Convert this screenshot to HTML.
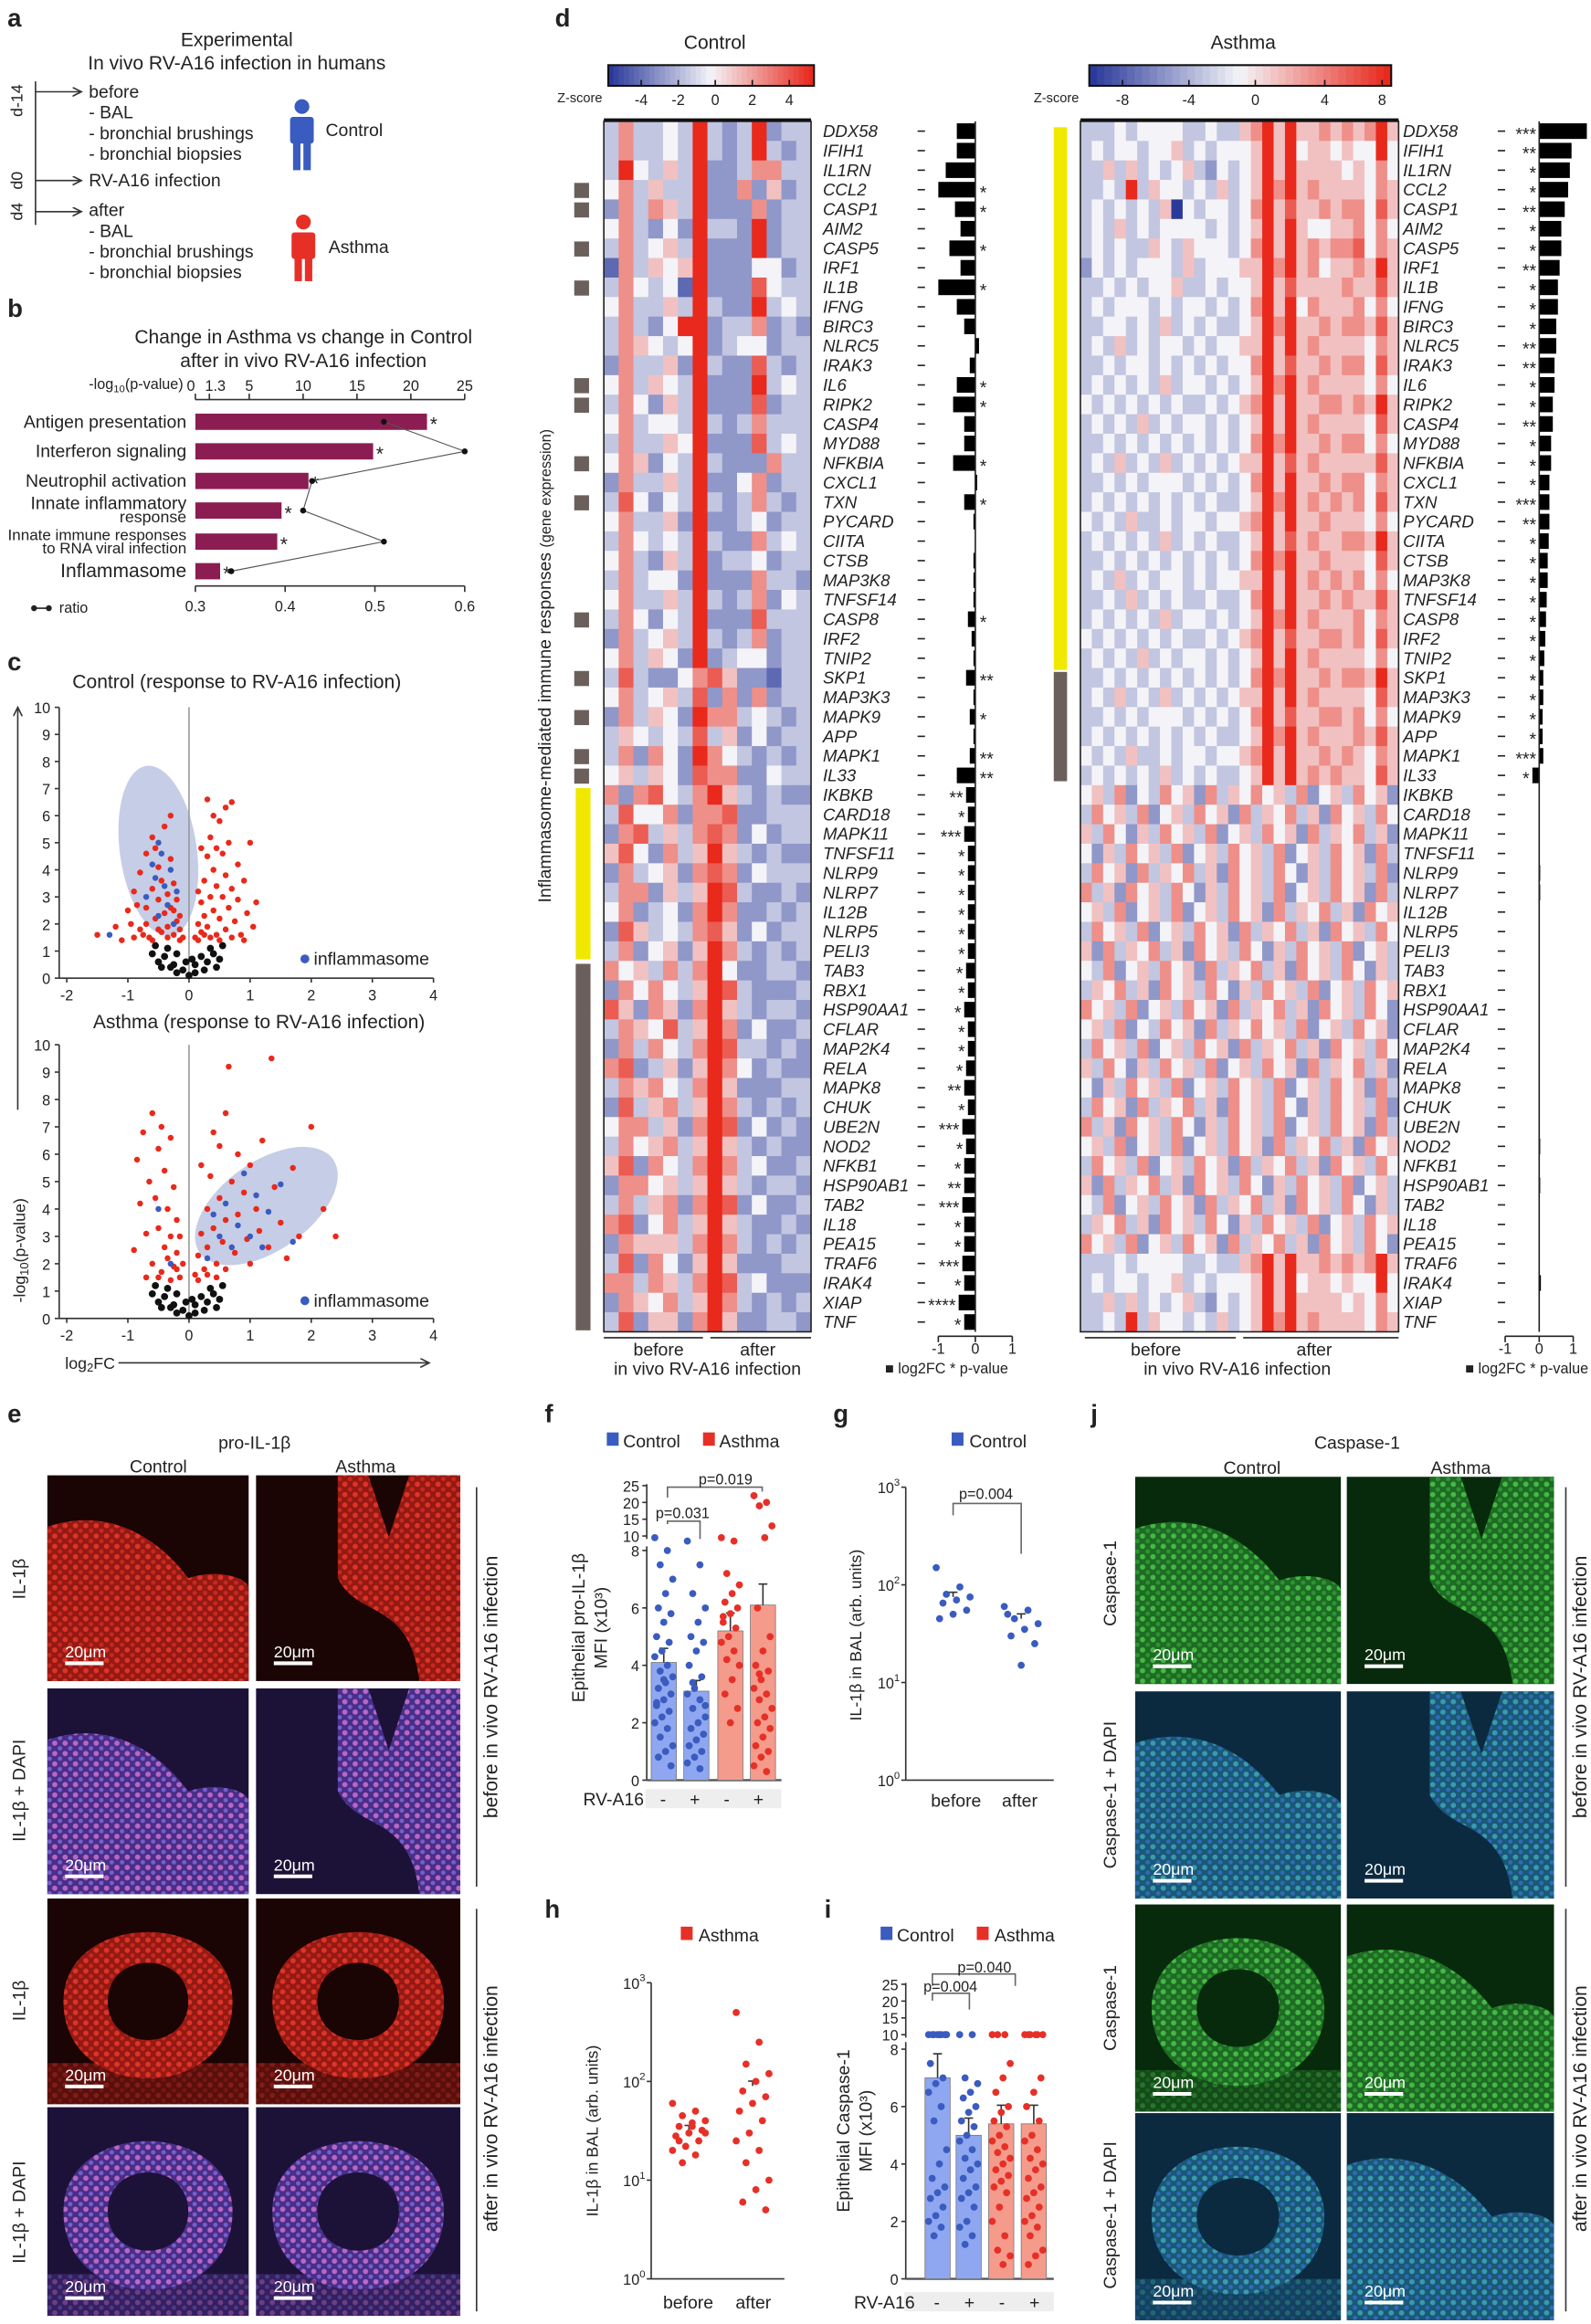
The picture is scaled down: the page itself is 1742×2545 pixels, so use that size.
<!DOCTYPE html>
<html><head><meta charset="utf-8"><style>
html,body{margin:0;padding:0;background:#fff}
svg{display:block}
text{font-family:"Liberation Sans",sans-serif;fill:#222}
.it{font-style:italic}
</style></head><body>
<svg id="fig" xmlns="http://www.w3.org/2000/svg" width="1742" height="2545" viewBox="0 0 1075 1570.5">
<defs>
<marker id="arr" markerWidth="8" markerHeight="8" refX="6" refY="3" orient="auto"><path d="M0,0 L6,3 L0,6" fill="none" stroke="#333" stroke-width="1"/></marker>
<pattern id="pr" width="7" height="7" patternUnits="userSpaceOnUse"><rect width="7" height="7" fill="#9a1a14"/><circle cx="2" cy="2" r="1.8" fill="#e8352a"/><circle cx="5.5" cy="5.5" r="1.5" fill="#d02a20"/></pattern>
<pattern id="prd" width="7" height="7" patternUnits="userSpaceOnUse"><rect width="7" height="7" fill="#4b2f8a"/><circle cx="2" cy="2" r="1.8" fill="#c06ad0"/><circle cx="5.5" cy="5.5" r="1.5" fill="#7a63d8"/></pattern>
<pattern id="pg" width="7" height="7" patternUnits="userSpaceOnUse"><rect width="7" height="7" fill="#1f6e25"/><circle cx="2" cy="2" r="1.8" fill="#48c048"/><circle cx="5.5" cy="5.5" r="1.5" fill="#2e9a34"/></pattern>
<pattern id="pgd" width="7" height="7" patternUnits="userSpaceOnUse"><rect width="7" height="7" fill="#1b5a78"/><circle cx="2" cy="2" r="1.8" fill="#3aa0b8"/><circle cx="5.5" cy="5.5" r="1.5" fill="#2f6fc0"/></pattern>
</defs>

<!-- Panel a -->
<g>
<text x="5" y="18" font-size="17" font-weight="bold">a</text>
<text x="160" y="31" font-size="13" text-anchor="middle">Experimental</text>
<text x="160" y="47" font-size="13" text-anchor="middle">In vivo RV-A16 infection in humans</text>
<line x1="24" y1="55" x2="24" y2="152" stroke="#333"/>
<line x1="24" y1="62" x2="55" y2="62" stroke="#333" marker-end="url(#arr)"/>
<line x1="24" y1="122" x2="55" y2="122" stroke="#333" marker-end="url(#arr)"/>
<line x1="24" y1="143" x2="55" y2="143" stroke="#333" marker-end="url(#arr)"/>
<text transform="translate(15,68) rotate(-90)" font-size="11" text-anchor="middle">d-14</text>
<text transform="translate(15,122) rotate(-90)" font-size="11" text-anchor="middle">d0</text>
<text transform="translate(15,143) rotate(-90)" font-size="11" text-anchor="middle">d4</text>
<g font-size="12">
<text x="60" y="66">before</text><text x="60" y="80">- BAL</text><text x="60" y="94">- bronchial brushings</text><text x="60" y="108">- bronchial biopsies</text>
<text x="60" y="126">RV-A16 infection</text>
<text x="60" y="146">after</text><text x="60" y="160">- BAL</text><text x="60" y="174">- bronchial brushings</text><text x="60" y="188">- bronchial biopsies</text>
</g>
<g fill="#3a5bbf"><circle cx="204" cy="72" r="5"/><rect x="196" y="79" width="16" height="18" rx="2"/><rect x="198" y="96" width="5" height="19"/><rect x="205" y="96" width="5" height="19"/></g>
<text x="220" y="92" font-size="12">Control</text>
<g fill="#e63027"><circle cx="205" cy="150" r="5"/><rect x="197" y="157" width="16" height="18" rx="2"/><rect x="199" y="174" width="5" height="16"/><rect x="206" y="174" width="5" height="16"/></g>
<text x="222" y="171" font-size="12">Asthma</text>
</g>

<!-- Panel b -->
<g id="panelB">
<text x="5" y="214" font-size="17" font-weight="bold">b</text>
<text x="205" y="232" font-size="13" text-anchor="middle">Change in Asthma vs change in Control</text>
<text x="205" y="248" font-size="13" text-anchor="middle">after in vivo RV-A16 infection</text>
<text x="60" y="263" font-size="10">-log<tspan font-size="7" dy="2">10</tspan><tspan dy="-2">(p-value)</tspan></text>
<line x1="132" y1="270" x2="314" y2="270" stroke="#333"/>
<line x1="132" y1="396" x2="314" y2="396" stroke="#333"/>
<g id="bplot"></g>
<circle cx="23" cy="411" r="2" fill="#222"/><line x1="23" y1="411" x2="33" y2="411" stroke="#222"/><circle cx="33" cy="411" r="2" fill="#222"/>
<text x="40" y="414" font-size="10">ratio</text>
</g>

<!-- Panel c -->
<g id="panelC">
<text x="5" y="453" font-size="17" font-weight="bold">c</text>
<text x="160" y="465" font-size="13" text-anchor="middle">Control (response to RV-A16 infection)</text>
<text x="175" y="695" font-size="13" text-anchor="middle">Asthma  (response to RV-A16 infection)</text>
<ellipse cx="107" cy="575" rx="26" ry="58" fill="#b8c0e0" opacity="0.8" transform="rotate(-8 107 575)"/>
<ellipse cx="180" cy="815" rx="55" ry="30" fill="#b8c0e0" opacity="0.8" transform="rotate(-35 180 815)"/>
<g id="volc"></g>
<line x1="12" y1="750" x2="12" y2="478" stroke="#333" marker-end="url(#arr)"/>
<line x1="80" y1="921" x2="290" y2="921" stroke="#333" marker-end="url(#arr)"/>
<text transform="translate(17,845) rotate(-90)" font-size="11" text-anchor="middle">-log<tspan font-size="8" dy="2">10</tspan><tspan dy="-2">(p-value)</tspan></text>
<text x="44" y="925" font-size="11">log<tspan font-size="8" dy="2">2</tspan><tspan dy="-2">FC</tspan></text>
<circle cx="206" cy="648" r="3" fill="#3a5bbf"/><text x="212" y="652" font-size="12">inflammasome</text>
<circle cx="206" cy="879" r="3" fill="#3a5bbf"/><text x="212" y="883" font-size="12">inflammasome</text>
</g>

<!-- Panel d -->
<g id="panelD">
<text x="375" y="18" font-size="17" font-weight="bold">d</text>
<text x="483" y="33" font-size="13" text-anchor="middle">Control</text>
<text x="840" y="33" font-size="13" text-anchor="middle">Asthma</text>
<text transform="translate(372,450) rotate(-90)" font-size="12" text-anchor="middle">Inflammasome-mediated immune responses <tspan font-size="10">(gene expression)</tspan></text>
<g id="heat"></g>
</g>

<!-- Panel e -->
<g id="panelE">
<text x="5" y="961" font-size="17" font-weight="bold">e</text>
<text x="172" y="979" font-size="12" text-anchor="middle">pro-IL-1β</text>
<text x="107" y="995" font-size="12" text-anchor="middle">Control</text>
<text x="247" y="995" font-size="12" text-anchor="middle">Asthma</text>
<g id="imgE"></g>
<text transform="translate(17,1067) rotate(-90)" font-size="12" text-anchor="middle">IL-1β</text>
<text transform="translate(17,1210) rotate(-90)" font-size="12" text-anchor="middle">IL-1β + DAPI</text>
<text transform="translate(17,1352) rotate(-90)" font-size="12" text-anchor="middle">IL-1β</text>
<text transform="translate(17,1495) rotate(-90)" font-size="12" text-anchor="middle">IL-1β + DAPI</text>
<line x1="322" y1="1005" x2="322" y2="1275" stroke="#333"/>
<line x1="322" y1="1290" x2="322" y2="1562" stroke="#333"/>
<text transform="translate(336,1140) rotate(-90)" font-size="13" text-anchor="middle">before in vivo RV-A16 infection</text>
<text transform="translate(336,1425) rotate(-90)" font-size="13" text-anchor="middle">after in vivo RV-A16 infection</text>
</g>

<!-- Panel j -->
<g id="panelJ">
<text x="737" y="961" font-size="17" font-weight="bold">j</text>
<text x="917" y="979" font-size="12" text-anchor="middle">Caspase-1</text>
<text x="846" y="996" font-size="12" text-anchor="middle">Control</text>
<text x="987" y="996" font-size="12" text-anchor="middle">Asthma</text>
<g id="imgJ"></g>
<text transform="translate(754,1070) rotate(-90)" font-size="12" text-anchor="middle">Caspase-1</text>
<text transform="translate(754,1213) rotate(-90)" font-size="12" text-anchor="middle">Caspase-1 + DAPI</text>
<text transform="translate(754,1357) rotate(-90)" font-size="12" text-anchor="middle">Caspase-1</text>
<text transform="translate(754,1497) rotate(-90)" font-size="12" text-anchor="middle">Caspase-1 + DAPI</text>
<line x1="1058" y1="1005" x2="1058" y2="1275" stroke="#333"/>
<line x1="1058" y1="1290" x2="1058" y2="1562" stroke="#333"/>
<text transform="translate(1072,1140) rotate(-90)" font-size="13" text-anchor="middle">before in vivo RV-A16 infection</text>
<text transform="translate(1072,1425) rotate(-90)" font-size="13" text-anchor="middle">after in vivo RV-A16 infection</text>
</g>

<!-- Panels f g h i -->
<g id="panelF">
<text x="368" y="961" font-size="17" font-weight="bold">f</text>
<rect x="410" y="968" width="8" height="9" fill="#3a5bbf"/><text x="421" y="978" font-size="12">Control</text>
<rect x="475" y="968" width="8" height="9" fill="#e63027"/><text x="486" y="978" font-size="12">Asthma</text>
<text transform="translate(395,1100) rotate(-90)" font-size="12" text-anchor="middle">Epithelial pro-IL-1β</text>
<text transform="translate(410,1100) rotate(-90)" font-size="12" text-anchor="middle">MFI (x10³)</text>
</g>
<g id="panelG">
<text x="563" y="961" font-size="17" font-weight="bold">g</text>
<rect x="643" y="968" width="8" height="9" fill="#3a5bbf"/><text x="655" y="978" font-size="12">Control</text>
<text transform="translate(582,1105) rotate(-90)" font-size="11" text-anchor="middle">IL-1β in BAL (arb. units)</text>
</g>
<g id="panelH">
<text x="368" y="1296" font-size="17" font-weight="bold">h</text>
<rect x="460" y="1302" width="8" height="9" fill="#e63027"/><text x="472" y="1312" font-size="12">Asthma</text>
<text transform="translate(404,1440) rotate(-90)" font-size="11" text-anchor="middle">IL-1β in BAL (arb. units)</text>
</g>
<g id="panelI">
<text x="557" y="1296" font-size="17" font-weight="bold">i</text>
<rect x="595" y="1302" width="8" height="9" fill="#3a5bbf"/><text x="606" y="1312" font-size="12">Control</text>
<rect x="660" y="1302" width="8" height="9" fill="#e63027"/><text x="672" y="1312" font-size="12">Asthma</text>
<text transform="translate(574,1440) rotate(-90)" font-size="12" text-anchor="middle">Epithelial Caspase-1</text>
<text transform="translate(589,1440) rotate(-90)" font-size="12" text-anchor="middle">MFI (x10³)</text>
</g>
<g id="dots"></g>
</svg>

<script>
// ===== data =====
const genes=["DDX58","IFIH1","IL1RN","CCL2","CASP1","AIM2","CASP5","IRF1","IL1B","IFNG","BIRC3","NLRC5","IRAK3","IL6","RIPK2","CASP4","MYD88","NFKBIA","CXCL1","TXN","PYCARD","CIITA","CTSB","MAP3K8","TNFSF14","CASP8","IRF2","TNIP2","SKP1","MAP3K3","MAPK9","APP","MAPK1","IL33","IKBKB","CARD18","MAPK11","TNFSF11","NLRP9","NLRP7","IL12B","NLRP5","PELI3","TAB3","RBX1","HSP90AA1","CFLAR","MAP2K4","RELA","MAPK8","CHUK","UBE2N","NOD2","NFKB1","HSP90AB1","TAB2","IL18","PEA15","TRAF6","IRAK4","XIAP","TNF"];
const ctrlFC=[-0.5,-0.5,-0.8,-1.0,-0.55,-0.4,-0.7,-0.4,-1.0,-0.5,-0.3,0.1,-0.15,-0.5,-0.6,-0.3,-0.3,-0.6,0.05,-0.3,-0.05,-0.02,-0.05,-0.05,-0.05,-0.2,-0.1,-0.05,-0.25,-0.05,-0.15,-0.05,-0.15,-0.5,-0.25,-0.2,-0.3,-0.2,-0.2,-0.2,-0.2,-0.2,-0.2,-0.25,-0.2,-0.3,-0.2,-0.2,-0.25,-0.3,-0.2,-0.35,-0.25,-0.3,-0.3,-0.35,-0.3,-0.3,-0.35,-0.3,-0.45,-0.3];
const ctrlStars=["","","","*","*","","*","","*","","","","","*","*","","","*","","*","","","","","","*","","","**","","*","","**","**","**","*","***","*","*","*","*","*","*","*","*","*","*","*","*","**","*","***","*","*","**","***","*","*","***","*","****","*"];
const asFC=[1.4,0.95,0.9,0.85,0.75,0.65,0.65,0.6,0.55,0.55,0.5,0.5,0.45,0.45,0.4,0.4,0.35,0.35,0.3,0.3,0.3,0.28,0.25,0.25,0.22,0.2,0.18,0.15,0.12,0.12,0.1,0.1,0.12,-0.2,0,0,0,0,0.03,0.03,0,0,0,0.02,0,0,0,0,0,0,0,0,0.03,0.02,0.03,0,0,0,0,0.05,0,0];
const asStars=["***","**","*","*","**","*","*","**","*","*","*","**","**","*","*","**","*","*","*","***","**","*","*","*","*","*","*","*","*","*","*","*","***","*"];
const ctrlHeat=["36334383238233","36334383238323","38435382236633","46353382262523","26365382226233","46324283328233","36345382228233","16354582224423","36434182227433","46335383228343","36324882336232","36543482344233","26335283227323","46354382228343","36425382227233","46344383236333","36335482227343","46524383222633","26335382246233","37424383236323","46335282234233","36434383226343","46325382334233","36344282226332","46335383236243","36424382227333","26345383236233","46354282344233","37322467522133","46345372626233","26354286634323","35434373524233","36264286432323","45354276622433","62674368532322","37446266722333","26735367624233","57426358532322","26345267624333","36625358732232","46234268622323","27534367524233","36245258632323","64536368422332","26464358732223","75265268532332","36547358624223","26364368733232","67235258642322","36564368522233","27356358632323","46635268724232","36456358532322","57264368634223","26645358532332","36356268724223","67246358532232","26555368632323","37264258522233","66365368734222","26546358632323","37255268522332"];
const asHeat=["3334344443343356858556565685","3434434453434445858455454484","3353534345324345858555545464","3343835443435345868565555465","3434343504344346857556566475","3435343444434345858544556464","3434335435444346858565667465","2434344435344455868564556585","3343434453343445857555565575","3434443434434346858465556464","3344343534343345868556566575","3435343443434455858565555465","3343443434343446857556566475","3434343534434345868565555464","4343434343343456858556656585","3434353434434345858565555475","3343434343434346868556566464","3435343534343455857565555575","3343434443434346858556566465","3434343434343345868565656475","4343533434434456858556555464","3434343534343345857565566585","3343434343434346868556555475","3435343443434455858565656464","3343534343343346858556565575","3434343534434345868565556465","4343434343343456857556656475","3434353434434345858565555464","3343434343434346868556566585","3435343534343455858565555475","3343434443434346857556656464","3434343434343345868565556575","4343533434434456858556565465","3434343534343345858565655475","4536243645263546453624536452","3645362453645263546352645364","5364253645362453645263546352","4253645362453645362453645263","3645263546352645364253645362","6352645364253645362453645263","4536245362453645263546352645","3645362453645263546352645364","5263546352645364253645362453","4362453645263546352645364253","3546352645364253645362453645","6453624536452635463526453642","4536243645263546453624536452","3645362453645263546352645364","5364253645362453645263546352","4253645362453645362453645263","3645263546352645364253645362","6352645364253645362453645263","4536245362453645263546352645","3645362453645263546352645364","5263546352645364253645362453","4362453645263546352645364253","3546352645364253645362453645","6453624536452635463526453642"];
const pathways=["Antigen presentation","Interferon signaling","Neutrophil activation","Innate inflammatory response","Innate immune responses to RNA viral infection","Inflammasome"];
const pathLogP=[21.5,16.5,10.5,8,7.6,2.3];
const pathRatio=[0.51,0.6,0.43,0.42,0.51,0.34];
const volcCtrlRed=[[-1.5,1.6],[-1.2,1.9],[-1.0,2.5],[-0.9,3.2],[-0.8,1.8],[-0.8,3.9],[-0.7,2.6],[-0.7,4.6],[-0.65,1.5],[-0.6,3.3],[-0.6,5.2],[-0.55,2.2],[-0.5,4.1],[-0.5,2.9],[-0.45,1.7],[-0.45,3.6],[-0.4,2.4],[-0.4,5.6],[-0.35,1.9],[-0.35,3.1],[-0.3,4.4],[-0.3,2.6],[-0.25,1.6],[-0.25,3.5],[-0.2,2.1],[-0.2,2.9],[-0.15,1.8],[-0.15,1.4],[-0.1,1.5],[-1.1,1.4],[-0.95,2.0],[-0.85,2.7],[-0.75,1.6],[-0.55,4.8],[-0.3,6.0],[-0.9,1.5],[-0.7,2.0],[-0.6,1.4],[-0.5,1.8],[-0.35,1.5],[-0.25,2.5],[-0.15,2.3],[0.1,1.5],[0.15,2.0],[0.2,2.8],[0.2,1.7],[0.25,3.6],[0.25,2.3],[0.3,4.5],[0.3,1.9],[0.35,3.0],[0.35,5.2],[0.4,2.5],[0.4,4.0],[0.45,1.6],[0.45,3.4],[0.5,5.8],[0.5,2.2],[0.55,4.6],[0.55,3.0],[0.6,1.8],[0.6,3.8],[0.65,2.6],[0.65,5.0],[0.7,6.5],[0.7,3.3],[0.75,2.1],[0.8,4.2],[0.8,2.9],[0.85,1.6],[0.9,3.6],[0.95,2.4],[1.0,5.0],[1.05,1.9],[1.1,2.8],[0.3,6.6],[0.6,6.3],[0.2,4.8],[0.4,6.0],[0.9,1.4],[0.15,1.4],[0.25,1.6],[0.35,1.5],[0.5,1.4],[0.15,3.2],[0.45,4.8],[0.7,1.5]];
const volcCtrlBlue=[[-0.7,3.0],[-0.6,4.2],[-0.5,2.3],[-0.45,4.6],[-0.4,3.4],[-0.35,2.7],[-0.3,4.0],[-0.25,2.0],[-0.55,3.7],[-0.2,3.2],[-1.3,1.6],[-0.5,5.0]];
const volcBlack=[[-0.6,0.9],[-0.5,0.6],[-0.4,0.8],[-0.3,0.4],[-0.2,0.9],[-0.1,0.3],[0,0.1],[0.1,0.5],[0.2,0.8],[0.3,0.6],[0.4,0.9],[0.5,0.7],[-0.2,0.2],[0.1,0.2],[-0.35,1.1],[0.35,1.1],[0.55,1.2],[-0.55,1.2],[0.05,0.7],[-0.05,0.6],[-0.25,0.5],[0.25,0.3],[-0.45,0.4],[0.45,0.4]];
const volcAsRed=[[-0.9,2.5],[-0.85,5.8],[-0.8,4.2],[-0.75,6.8],[-0.7,3.1],[-0.65,5.0],[-0.6,7.5],[-0.6,2.0],[-0.55,4.4],[-0.5,6.2],[-0.5,3.3],[-0.45,1.7],[-0.4,5.4],[-0.4,2.6],[-0.35,4.0],[-0.3,6.6],[-0.3,3.0],[-0.25,1.9],[-0.25,4.8],[-0.2,2.4],[-0.2,3.6],[-0.15,1.5],[-0.1,2.0],[-0.7,1.5],[-0.45,7.0],[-0.35,2.2],[-0.5,1.5],[-0.3,1.4],[-0.2,1.8],[-0.15,3.0],[0.1,1.6],[0.15,2.3],[0.2,3.1],[0.25,1.8],[0.3,4.0],[0.3,2.6],[0.35,5.2],[0.4,3.3],[0.45,2.0],[0.5,6.3],[0.5,4.4],[0.55,2.8],[0.6,7.5],[0.6,3.6],[0.65,9.2],[0.7,5.0],[0.75,2.4],[0.8,6.0],[0.8,3.8],[0.9,4.6],[0.95,2.9],[1.0,5.6],[1.0,2.0],[1.1,4.0],[1.15,3.2],[1.2,6.5],[1.3,2.6],[1.35,9.5],[1.4,4.8],[1.5,3.5],[1.6,2.2],[1.7,5.5],[1.8,3.0],[2.0,7.0],[2.2,4.0],[2.4,3.0],[0.4,6.8],[0.2,5.6],[0.15,1.4],[0.3,1.6],[0.45,1.5],[0.6,1.8]];
const volcAsBlue=[[0.3,2.2],[0.5,3.0],[0.6,4.2],[0.7,2.6],[0.8,3.4],[0.9,5.3],[1.0,3.0],[1.1,4.5],[1.2,2.6],[1.3,3.9],[1.5,4.9],[1.7,2.8],[0.4,3.8],[-0.3,2.0],[-0.5,4.0]];
const fCtlBefore=[9.5,8,7.5,7,6.5,6,5.8,5.5,5,4.8,4.5,4.3,4,3.8,3.6,3.4,3.2,3,2.8,2.6,2.4,2.2,2,1.8,1.5,1.2,1,0.8,0.5,3.5,2.7];
const fCtlAfter=[8.5,7.5,6.5,6,5.5,5,4.8,4.5,4,3.6,3.2,3,2.8,2.5,2.2,2,1.8,1.6,1.4,1.2,1,0.8,0.6,0.4,3.4,2.6];
const fAsBefore=[9.5,8.5,7.2,6.8,6.5,6.2,6,5.8,5.5,5.3,5,4.8,4.5,4.2,4,3.5,3,2.5,2,5.7];
const fAsAfter=[22,20,19,13,9.5,6,5,4.5,4,3.8,3.5,3.2,3,2.8,2.5,2.2,2,1.8,1.5,1.2,1,0.8,0.5,0.3,3.7];
const fMeans=[4.1,3.1,5.2,6.1];
const gBefore=[150,95,80,75,70,65,55,50,45];
const gAfter=[60,55,45,40,35,30,25,15,50];
const gMeans=[75,45];
const hBefore=[60,50,45,40,38,35,32,30,28,25,22,20,18,15,30,35,25];
const hAfter=[500,250,150,120,100,80,70,60,50,40,30,25,20,15,10,8,6,5];
const hMeans=[32,90];
const iCtlBefore=[10,10,10,10,10,10,10,10,7.5,7,6.8,6.5,6,5.5,4.5,4,3.5,3.2,3,2.8,2.5,2.2,2,1.8,1.5];
const iCtlAfter=[10,10,7,6.8,6.5,6.3,6,5.8,5.5,5.3,5,4.8,4.5,4.2,4,3.8,3.5,3.2,3,2.8,2.5,2,1.8,1.5,1.2];
const iAsBefore=[10,10,10,7.5,7,6.5,6,5.8,5.5,5.3,5,4.8,4.6,4.4,4.2,4,3.8,3.6,3.4,3.2,3,2.5,2,1.5,1,0.8,0.5];
const iAsAfter=[10,10,10,10,10,10,7,6.5,6,5.5,5,4.8,4.5,4.2,4,3.8,3.5,3.2,3,2.8,2.5,2.2,2,1.8,1.5,1,0.8,0.5];
const iMeans=[7.0,5.0,5.4,5.4];

const NS="http://www.w3.org/2000/svg";
function mk(tag,attrs,parent,txt){const e=document.createElementNS(NS,tag);for(const k in attrs)e.setAttribute(k,attrs[k]);if(txt!==undefined)e.textContent=txt;parent.appendChild(e);return e;}

function hc(v){const t=v/8;let a,b,u;const B=[43,58,154],W=[244,244,248],R=[232,41,28];
 if(t<0.5){a=B;b=W;u=t/0.5;}else{a=W;b=R;u=(t-0.5)/0.5;}
 return `rgb(${Math.round(a[0]+(b[0]-a[0])*u)},${Math.round(a[1]+(b[1]-a[1])*u)},${Math.round(a[2]+(b[2]-a[2])*u)})`;}

const heat=document.getElementById('heat');
const top0=82,rowH=(900-82)/62;
function drawHeat(rows,x0,x1,name){
 const g=mk('g',{},heat);
 
 
 const nc=rows[0].length,cw=(x1-x0)/nc;
 for(let r=0;r<62;r++){const s=rows[r%rows.length];for(let c=0;c<nc;c++){
  const cell=mk('rect',{x:x0+c*cw,y:top0+r*rowH,width:cw+0.3,height:rowH+0.3,fill:hc(+s[c])},g);
  
  }}
 mk('rect',{x:x0,y:top0,width:x1-x0,height:900-top0,fill:'none',stroke:'#222','stroke-width':1},g);
 mk('line',{x1:x0,y1:top0-1,x2:x1,y2:top0-1,stroke:'#111','stroke-width':2},g);
}
drawHeat(ctrlHeat,408,548,'control-heatmap');
drawHeat(asHeat,730,945,'asthma-heatmap');

function cbar(x0,x1,ticks,labels,zx,name){
 const g=mk('g',{},heat);
 
 
 const n=40,w=(x1-x0)/n;
 for(let i=0;i<n;i++)mk('rect',{x:x0+i*w,y:44,width:w+0.3,height:14,fill:hc(i/(n-1)*8)},g);
 mk('rect',{x:x0,y:44,width:x1-x0,height:14,fill:'none',stroke:'#111','stroke-width':1.3},g);
 ticks.forEach((t,i)=>{const x=x0+(x1-x0)*t;mk('line',{x1:x,y1:58,x2:x,y2:54,stroke:'#111'},g);mk('text',{x:x,y:71,'font-size':10,'text-anchor':'middle'},g,labels[i]);});
 mk('text',{x:zx,y:69,'font-size':9,'text-anchor':'end'},g,'Z-score');
}
cbar(411,550,[0.16,0.34,0.52,0.7,0.88],["-4","-2","0","2","4"],407,'control-zscore-legend');
cbar(736,940,[0.11,0.33,0.55,0.78,0.97],["-8","-4","0","4","8"],729,'asthma-zscore-legend');

function sideBars(fc,stars,lx,zx,unit,starRightUntil,dashX,name){
 const g=mk('g',{},heat);
 
 
 genes.forEach((gn,i)=>{const yc=top0+(i+0.5)*rowH;
  const t=mk('text',{x:lx,y:yc+4,'font-size':11.5,class:'it'},g,gn);
  
  
  mk('line',{x1:dashX,y1:yc,x2:dashX+5,y2:yc,stroke:'#222'},g);
  const v=fc[i],w=Math.abs(v)*unit;
  if(w>0.5){const b=mk('rect',{x:v<0?zx-w:zx,y:yc-rowH*0.4,width:w,height:rowH*0.8,fill:'#000'},g);
   
   }
  const s=stars[i]||"";
  if(s){ if(i<starRightUntil) mk('text',{x:zx+(v>0?v*unit+2:3),y:yc+6,'font-size':12},g,s);
   else mk('text',{x:zx-2+(v<0?-w:0),y:yc+6,'font-size':12,'text-anchor':'end'},g,s);}
 });
 mk('line',{x1:zx,y1:top0,x2:zx,y2:900,stroke:'#222'},g);
 mk('line',{x1:zx-unit,y1:903,x2:zx+unit,y2:903,stroke:'#222'},g);
 [-1,0,1].forEach(k=>{mk('line',{x1:zx+k*unit,y1:903,x2:zx+k*unit,y2:907,stroke:'#222'},g);mk('text',{x:zx+k*unit,y:915,'font-size':10,'text-anchor':'middle'},g,String(k));});
}
sideBars(ctrlFC,ctrlStars,556,659,25,34,620,'control-log2fc-bars');
sideBars(asFC,asStars,948,1040,23,0,1012,'asthma-log2fc-bars');

const grayCtrlRows=[3,4,6,8,13,14,17,19,25,28,30,32,33];
grayCtrlRows.forEach(r=>{const b=mk('rect',{x:388,y:top0+r*rowH+2,width:10,height:rowH-3,fill:'#6b5f5c'},heat);
 });
mk('rect',{x:389,y:top0+34*rowH+2,width:10,height:9*rowH-3,fill:'#f1e800'},heat);
mk('rect',{x:389,y:top0+43*rowH+2,width:10,height:19*rowH-3,fill:'#6b5f5c'},heat);
mk('rect',{x:712,y:top0+0.3*rowH,width:9,height:27.8*rowH,fill:'#f1e800'},heat);
mk('rect',{x:712,y:top0+28.2*rowH,width:9,height:5.6*rowH,fill:'#6b5f5c'},heat);

[[408,475,445,'before'],[480,548,512,'after'],[733,835,781,'before'],[840,945,888,'after']].forEach(a=>{
 mk('line',{x1:a[0],y1:904,x2:a[1],y2:904,stroke:'#222'},heat);
 mk('text',{x:a[2],y:916,'font-size':12,'text-anchor':'middle'},heat,a[3]);});
mk('text',{x:478,y:929,'font-size':12,'text-anchor':'middle'},heat,'in vivo RV-A16 infection');
mk('text',{x:836,y:929,'font-size':12,'text-anchor':'middle'},heat,'in vivo RV-A16 infection');
mk('text',{x:598,y:928,'font-size':10},heat,'■ log2FC  * p-value');
mk('text',{x:990,y:928,'font-size':10},heat,'■ log2FC  * p-value');

// ===== panel b =====
const bp=document.getElementById('bplot');
const xP=v=>132+v*(182/25), xR=v=>132+(v-0.3)*(182/0.3);
[[0,'0'],[1.3,'1.3'],[5,'5'],[10,'10'],[15,'15'],[20,'20'],[25,'25']].forEach(t=>{mk('line',{x1:xP(t[0]),y1:270,x2:xP(t[0]),y2:266,stroke:'#333'},bp);mk('text',{x:xP(t[0])+(t[0]===0?-3:t[0]===1.3?4:0),y:264,'font-size':10,'text-anchor':'middle'},bp,t[1]);});
[0.3,0.4,0.5,0.6].forEach(t=>{mk('line',{x1:xR(t),y1:396,x2:xR(t),y2:400,stroke:'#333'},bp);mk('text',{x:xR(t),y:413,'font-size':10,'text-anchor':'middle'},bp,String(t));});
const byc=[285,305,325,345,366,386];
let pts=[];
pathways.forEach((p,i)=>{const y=byc[i];
 const b=mk('rect',{x:132,y:y-5.5,width:xP(pathLogP[i])-132,height:11,fill:'#8c1d52'},bp);
 
 mk('text',{x:xP(pathLogP[i])+2,y:y+6,'font-size':13},bp,'*');
 pts.push([xR(pathRatio[i]),y]);});
mk('polyline',{points:pts.map(p=>p.join(',')).join(' '),fill:'none',stroke:'#555','stroke-width':0.7},bp);
pts.forEach(p=>mk('circle',{cx:p[0],cy:p[1],r:2,fill:'#111'},bp));
const lbl=[["Antigen presentation"],["Interferon signaling"],["Neutrophil activation"],["Innate inflammatory","response"],["Innate immune responses","to RNA viral infection"],["Inflammasome"]];
lbl.forEach((l,i)=>{if(l.length===1)mk('text',{x:126,y:byc[i]+4,'font-size':i==5?13:12,'text-anchor':'end'},bp,l[0]);
 else{mk('text',{x:126,y:byc[i]-1,'font-size':i==4?10.5:12,'text-anchor':'end'},bp,l[0]);mk('text',{x:126,y:byc[i]+8,'font-size':i==4?10.5:11,'text-anchor':'end'},bp,l[1]);}});

// ===== panel c =====
const vg=document.getElementById('volc');
function volcano(y0,ysc,red,blue,name){
 const g=mk('g',{},vg);
 
 
 const X=v=>127.7+v*41.3,Y=v=>y0-v*ysc;
 mk('line',{x1:40,y1:Y(0),x2:40,y2:Y(10),stroke:'#333'},g);
 mk('line',{x1:40,y1:Y(0),x2:X(4),y2:Y(0),stroke:'#333'},g);
 for(let k=0;k<=10;k++){mk('line',{x1:37,y1:Y(k),x2:40,y2:Y(k),stroke:'#333'},g);mk('text',{x:34,y:Y(k)+4,'font-size':10,'text-anchor':'end'},g,String(k));}
 for(let k=-2;k<=4;k++){mk('line',{x1:X(k),y1:Y(0),x2:X(k),y2:Y(0)+3,stroke:'#333'},g);mk('text',{x:X(k),y:Y(0)+15,'font-size':10,'text-anchor':'middle'},g,String(k));}
 mk('line',{x1:X(0),y1:Y(0),x2:X(0),y2:Y(10),stroke:'#999'},g);
 volcBlack.forEach(p=>mk('circle',{cx:X(p[0]),cy:Y(p[1]),r:2.4,fill:'#111'},g));
 red.forEach(p=>{const c=mk('circle',{cx:X(p[0]),cy:Y(p[1]),r:2,fill:'#e8291c'},g);});
 blue.forEach(p=>{const c=mk('circle',{cx:X(p[0]),cy:Y(p[1]),r:2,fill:'#3a5bbf'},g);});
}
volcano(661,18.3,volcCtrlRed,volcCtrlBlue,'control-volcano');
volcano(891,18.5,volcAsRed,volcAsBlue,'asthma-volcano');

// ===== microscopy =====
function micro(parent,x,y,w,h,kind,variant,label){
 const g=mk('g',{},parent);
 
 
 const bg={r:'#1a0404',rd:'#1c1238',g:'#082a0c',gd:'#0b2a40'}[kind];
 mk('rect',{x:x,y:y,width:w,height:h,fill:bg},g);
 let d;
 if(variant===0) d=`M${x},${y+h*0.25} C${x+w*0.3},${y+h*0.15} ${x+w*0.55},${y+h*0.3} ${x+w*0.7},${y+h*0.5} C${x+w*0.85},${y+h*0.45} ${x+w},${y+h*0.5} ${x+w},${y+h*0.55} L${x+w},${y+h} L${x},${y+h} Z`;
 else if(variant===1) d=`M${x+w*0.4},${y} L${x+w},${y} L${x+w},${y+h} L${x+w*0.8},${y+h} C${x+w*0.75},${y+h*0.6} ${x+w*0.5},${y+h*0.7} ${x+w*0.4},${y+h*0.5} Z M${x+w*0.55},${y} L${x+w*0.75},${y} L${x+w*0.65},${y+h*0.3} Z`;
 else d=`M${x+w*0.08},${y+h*0.5} C${x+w*0.08},${y+h*0.05} ${x+w*0.92},${y+h*0.05} ${x+w*0.92},${y+h*0.5} C${x+w*0.92},${y+h} ${x+w*0.08},${y+h} ${x+w*0.08},${y+h*0.5} Z M${x+w*0.3},${y+h*0.5} C${x+w*0.3},${y+h*0.75} ${x+w*0.7},${y+h*0.75} ${x+w*0.7},${y+h*0.5} C${x+w*0.7},${y+h*0.25} ${x+w*0.3},${y+h*0.25} ${x+w*0.3},${y+h*0.5} Z`;
 mk('path',{d:d,fill:`url(#p${kind})`,'fill-rule':'evenodd',opacity:0.95},g);
 if(variant===2) mk('rect',{x:x,y:y+h*0.8,width:w,height:h*0.2,fill:`url(#p${kind})`,opacity:0.5},g);
 mk('line',{x1:x+12,y1:y+h-12,x2:x+38,y2:y+h-12,stroke:'#fff','stroke-width':2.5},g);
 mk('text',{x:x+12,y:y+h-16,'font-size':11,style:'fill:#fff'},g,'20μm');
}
const ie=document.getElementById('imgE');
[[997,'r',0,1],[1141,'rd',0,1],[1283,'r',2,2],[1424,'rd',2,2]].forEach(r=>{micro(ie,32,r[0],136,r[0]===1424?141:139,r[1],r[2],'control-il1b-image');micro(ie,173,r[0],138,r[0]===1424?141:139,r[1],r[3],'asthma-il1b-image');});
const ij=document.getElementById('imgJ');
[[998,'g'],[1143,'gd'],[1287,'g'],[1428,'gd']].forEach((r,i)=>{micro(ij,767,r[0],139,140,r[1],i<2?0:2,'control-caspase1-image');micro(ij,910,r[0],140,140,r[1],i<2?1:0,'asthma-caspase1-image');});

// ===== dot/bar plots =====
const dg=document.getElementById('dots');
const BL='#3a5bbf',RD='#e63027',BLF='#8ea7f0',RDF='#f59b8c';
function brokenY(y0,u,top10,u2){return v=>v<=8?y0-v*u:top10-(v-10)*u2;}
function groupPlot(Y,xs,bw,vals,means,cols,fills,name){
 const g=mk('g',{},dg);
 
 
 vals.forEach((arr,k)=>{const x=xs[k];
  const b=mk('rect',{x:x,y:Y(means[k]),width:bw,height:Y(0)-Y(means[k]),fill:fills[k],stroke:'#777','stroke-width':0.5},g);
  
  mk('line',{x1:x+bw/2,y1:Y(means[k]),x2:x+bw/2,y2:Y(means[k]*1.12),stroke:'#333'},g);
  mk('line',{x1:x+bw/2-3,y1:Y(means[k]*1.12),x2:x+bw/2+3,y2:Y(means[k]*1.12),stroke:'#333'},g);
  arr.forEach((v,j)=>{const dx=((j*7)%11-5)*bw/14;
   const d=mk('circle',{cx:x+bw/2+dx,cy:Y(v),r:2.4,fill:cols[k]},g);
   });
 });
}
const Yf=brokenY(1203,19.4,1038,2.27);
(function(){const g=mk('g',{},dg);
 mk('line',{x1:437,y1:1203,x2:437,y2:1045,stroke:'#333'},g);mk('line',{x1:437,y1:1040,x2:437,y2:1003,stroke:'#333'},g);
 mk('line',{x1:437,y1:1203,x2:528,y2:1203,stroke:'#555','stroke-width':1.5},g);
 [0,2,4,6,8,10,15,20,25].forEach(t=>{mk('line',{x1:434,y1:Yf(t),x2:437,y2:Yf(t),stroke:'#333'},g);mk('text',{x:432,y:Yf(t)+4,'font-size':10,'text-anchor':'end'},g,String(t));});
 mk('path',{d:'M451,1012 V1005 H515 V1008',fill:'none',stroke:'#666'},g);mk('text',{x:472,y:1003,'font-size':10},g,'p=0.019');
 mk('path',{d:'M451,1030 V1028 H473 V1040',fill:'none',stroke:'#666'},g);mk('text',{x:443,y:1026,'font-size':10},g,'p=0.031');
 mk('rect',{x:436,y:1209,width:92,height:13,fill:'#eee'},g);
 mk('text',{x:394,y:1220,'font-size':12},g,'RV-A16');
 ['-','+','-','+'].forEach((s,i)=>mk('text',{x:448+i*21.5,y:1220,'font-size':12,'text-anchor':'middle'},g,s));})();
groupPlot(Yf,[440,462,485,507],17,[fCtlBefore,fCtlAfter,fAsBefore,fAsAfter],fMeans,[BL,BL,RD,RD],[BLF,BLF,RDF,RDF],'pro-il1b-dotplot');
const Yi=brokenY(1540,19.4,1375,2.27);
(function(){const g=mk('g',{},dg);
 mk('line',{x1:612,y1:1540,x2:612,y2:1380,stroke:'#333'},g);mk('line',{x1:612,y1:1377,x2:612,y2:1340,stroke:'#333'},g);
 mk('line',{x1:612,y1:1540,x2:712,y2:1540,stroke:'#555','stroke-width':1.5},g);
 [0,2,4,6,8,10,15,20,25].forEach(t=>{mk('line',{x1:609,y1:Yi(t),x2:612,y2:Yi(t),stroke:'#333'},g);mk('text',{x:607,y:Yi(t)+4,'font-size':10,'text-anchor':'end'},g,String(t));});
 mk('path',{d:'M630,1342 V1334 H686 V1342',fill:'none',stroke:'#666'},g);mk('text',{x:647,y:1333,'font-size':10},g,'p=0.040');
 mk('path',{d:'M630,1352 V1347 H655 V1358',fill:'none',stroke:'#666'},g);mk('text',{x:624,y:1346,'font-size':10},g,'p=0.004');
 mk('rect',{x:611,y:1549,width:101,height:13,fill:'#eee'},g);
 mk('text',{x:577,y:1560,'font-size':12},g,'RV-A16');
 ['-','+','-','+'].forEach((s,i)=>mk('text',{x:633+i*22,y:1560,'font-size':12,'text-anchor':'middle'},g,s));})();
groupPlot(Yi,[625,646,668,690],17,[iCtlBefore,iCtlAfter,iAsBefore,iAsAfter],iMeans,[BL,BL,RD,RD],[BLF,BLF,RDF,RDF],'caspase1-dotplot');
function logAxis(x,y0,u,xr,name){const g=mk('g',{},dg);
 
 mk('line',{x1:x,y1:y0,x2:x,y2:y0-3*u,stroke:'#333'},g);mk('line',{x1:x,y1:y0,x2:xr,y2:y0,stroke:'#333'},g);
 for(let k=0;k<=3;k++){mk('line',{x1:x-3,y1:y0-k*u,x2:x,y2:y0-k*u,stroke:'#333'},g);
  const t=mk('text',{x:x-4,y:y0-k*u+4,'font-size':10,'text-anchor':'end'},g,'10');mk('tspan',{'font-size':7,dy:-5},t,String(k));}
}
const Yg=v=>1203-Math.log10(v)*66;
logAxis(612,1203,66,712,'bal-control-axis');
groupPlot(Yg,[628,674],32,[gBefore,gAfter],gMeans,[BL,BL],['#fff','#fff'],'bal-control-dotplot');
mk('path',{d:'M644,1024 V1016 H690 V1050',fill:'none',stroke:'#666'},dg);mk('text',{x:648,y:1013,'font-size':10},dg,'p=0.004');
mk('text',{x:646,y:1221,'font-size':12,'text-anchor':'middle'},dg,'before');mk('text',{x:689,y:1221,'font-size':12,'text-anchor':'middle'},dg,'after');
const Yh=v=>1540-Math.log10(v)*66.7;
logAxis(440,1540,66.7,530,'bal-asthma-axis');
groupPlot(Yh,[450,493],31,[hBefore,hAfter],hMeans,[RD,RD],['#fff','#fff'],'bal-asthma-dotplot');
mk('text',{x:465,y:1560,'font-size':12,'text-anchor':'middle'},dg,'before');mk('text',{x:509,y:1560,'font-size':12,'text-anchor':'middle'},dg,'after');
</script>
</body></html>
